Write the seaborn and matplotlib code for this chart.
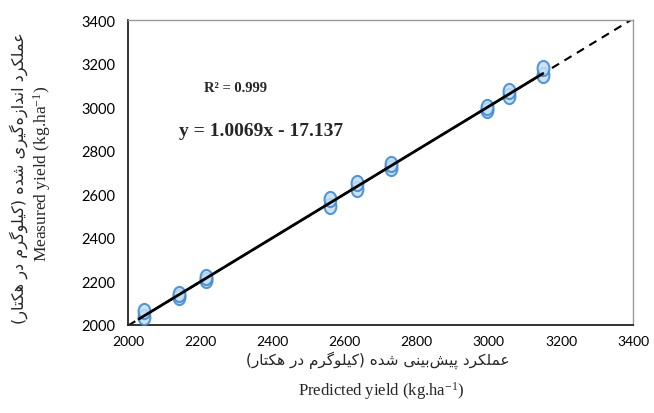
import numpy as np
import pandas as pd
import matplotlib
matplotlib.use("Agg")
import matplotlib.pyplot as plt
import seaborn as sns
from matplotlib.path import Path
from matplotlib.transforms import Affine2D

# predicted vs measured yield (kg/ha), two observations per treatment
predicted = [2045, 2045, 2140, 2140, 2215, 2215, 2560, 2560, 2635, 2635,
             2730, 2730, 2995, 2995, 3055, 3055, 3150, 3150]
measured = [2035, 2065, 2130, 2142, 2208, 2218, 2545, 2580, 2625, 2652,
            2720, 2740, 2985, 3002, 3052, 3075, 3150, 3180]

slope = 1.0069
intercept = -17.137
r2 = 0.999
fit_range = [2030, 3150]
trend_range = [2000, 3400]
ticks = [2000, 2200, 2400, 2600, 2800, 3000, 3200, 3400]

ylabel_fa = "عملکرد اندازه\u200cگیری شده (کیلوگرم در هکتار)"
xlabel_fa = "عملکرد پیش\u200cبینی شده (کیلوگرم در هکتار)"
ylabel_en = r"Measured yield (kg.ha$^{\mathregular{-1}}$)"
xlabel_en = r"Predicted yield (kg.ha$^{\mathregular{-1}}$)"


# small persian shaper (no arabic_reshaper in the sandbox)
FORMS = {
    "ا": ("\uFE8D", "\uFE8E", None, None),
    "ب": ("\uFE8F", "\uFE90", "\uFE91", "\uFE92"),
    "پ": ("\uFB56", "\uFB57", "\uFB58", "\uFB59"),
    "ت": ("\uFE95", "\uFE96", "\uFE97", "\uFE98"),
    "د": ("\uFEA9", "\uFEAA", None, None),
    "ر": ("\uFEAD", "\uFEAE", None, None),
    "ز": ("\uFEAF", "\uFEB0", None, None),
    "ش": ("\uFEB5", "\uFEB6", "\uFEB7", "\uFEB8"),
    "ع": ("\uFEC9", "\uFECA", "\uFECB", "\uFECC"),
    "ک": ("\uFB8E", "\uFB8F", "\uFB90", "\uFB91"),
    "گ": ("\uFB92", "\uFB93", "\uFB94", "\uFB95"),
    "ل": ("\uFEDD", "\uFEDE", "\uFEDF", "\uFEE0"),
    "م": ("\uFEE1", "\uFEE2", "\uFEE3", "\uFEE4"),
    "ن": ("\uFEE5", "\uFEE6", "\uFEE7", "\uFEE8"),
    "و": ("\uFEED", "\uFEEE", None, None),
    "ه": ("\uFEE9", "\uFEEA", "\uFEEB", "\uFEEC"),
    "ی": ("\uFBFC", "\uFBFD", "\uFBFE", "\uFBFF"),
}


def shape_fa(text):
    out = []
    for i, c in enumerate(text):
        if c == "\u200c":
            continue
        if c not in FORMS:
            out.append(c)
            continue
        prev = text[i - 1] if i > 0 else ""
        nxt = text[i + 1] if i + 1 < len(text) else ""
        join_prev = prev in FORMS and FORMS[prev][2] is not None
        join_next = FORMS[c][2] is not None and nxt in FORMS
        iso, fin, ini, med = FORMS[c]
        if join_prev and join_next:
            out.append(med)
        elif join_prev:
            out.append(fin)
        elif join_next:
            out.append(ini)
        else:
            out.append(iso)
    mirror = {"(": ")", ")": "("}
    return "".join(mirror.get(ch, ch) for ch in reversed(out))


sns.set_style("white")
plt.rcParams["font.family"] = ["Lato", "DejaVu Sans"]
plt.rcParams["mathtext.fontset"] = "custom"
plt.rcParams["mathtext.rm"] = "Liberation Serif"
plt.rcParams["axes.unicode_minus"] = False
plt.rcParams["mathtext.default"] = "regular"

fig = plt.figure(figsize=(6.54, 4.14), dpi=100)
ax = fig.add_axes([0.196, 0.213, 0.772, 0.736])

df = pd.DataFrame({"predicted": predicted, "measured": measured})

# trend line: dashed over full axis, solid over data range
trend = pd.DataFrame({"x": trend_range})
trend["y"] = slope * trend["x"] + intercept
fit = pd.DataFrame({"x": fit_range})
fit["y"] = slope * fit["x"] + intercept
sns.lineplot(data=trend, x="x", y="y", ax=ax, color="black", lw=1.5,
             linestyle=(0, (4, 3)), zorder=2)

ellipse = Path.unit_circle().transformed(Affine2D().scale(0.78, 1.0))
sns.scatterplot(data=df, x="predicted", y="measured", ax=ax, marker=ellipse,
                s=120, facecolor="#c2e0f4", edgecolor="#3d86cc",
                linewidth=1.5, alpha=0.85, zorder=3)

sns.lineplot(data=fit, x="x", y="y", ax=ax, color="black", lw=2, zorder=4)

ax.set_xlim(2000, 3400)
ax.set_ylim(2000, 3400)
ax.set_xticks(ticks)
ax.set_yticks(ticks)
ax.tick_params(length=0, labelsize=10.5, colors="black")
ax.tick_params(axis="x", labelsize=10, pad=7)
ax.tick_params(axis="y", pad=9)

for side in ["left", "bottom"]:
    ax.spines[side].set_color("#222222")
    ax.spines[side].set_linewidth(1.3)
for side in ["top", "right"]:
    ax.spines[side].set_color("#9a9a9a")
    ax.spines[side].set_linewidth(1.0)

ax.set_xlabel("")
ax.set_ylabel("")

ax.text(2211, 3092, "R² = 0.999", fontsize=10.5, fontweight="bold",
        family="Liberation Serif", va="center")
ax.text(2142, 2895, f"y = {slope}x - {abs(intercept)}", fontsize=14,
        fontweight="bold", family="Liberation Serif", va="center")

fig.text(0.028, 0.57, shape_fa(ylabel_fa), rotation=90, ha="center",
         va="center", fontsize=11.5, family=["DejaVu Sans"])
fig.text(0.064, 0.58, ylabel_en, rotation=90, ha="center", va="center",
         fontsize=12.5, family="Liberation Serif")
fig.text(0.578, 0.13, shape_fa(xlabel_fa), ha="center", va="center",
         fontsize=11, family=["DejaVu Sans"])
fig.text(0.582, 0.055, xlabel_en, ha="center", va="center", fontsize=12,
         family="Liberation Serif")

fig.savefig("out.png", dpi=100)
